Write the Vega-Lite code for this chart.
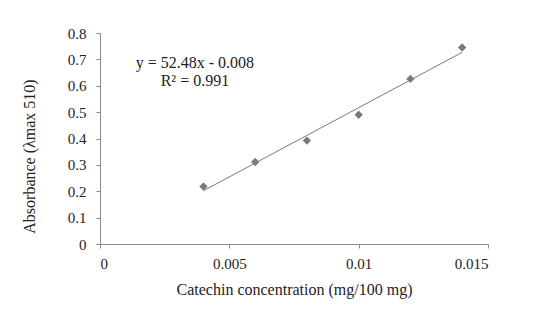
{
  "$schema": "https://vega.github.io/schema/vega-lite/v6.json",
  "width": 388,
  "height": 211,
  "autosize": {"type": "none"},
  "padding": {"left": 100, "top": 33, "right": 58, "bottom": 83},
  "background": "white",
  "config": {
    "view": {"stroke": null},
    "font": "Liberation Serif",
    "axis": {
      "grid": false,
      "domainColor": "#8c8c8c",
      "tickColor": "#8c8c8c",
      "tickSize": 4,
      "labelFont": "Liberation Serif",
      "labelFontSize": 15,
      "labelColor": "#222222",
      "labelOverlap": false,
      "titleFont": "Liberation Serif",
      "titleFontSize": 16,
      "titleFontWeight": "normal",
      "titleColor": "#222222"
    }
  },
  "datasets": {
    "points": [
      {"conc": 0.004, "abs": 0.218},
      {"conc": 0.006, "abs": 0.311},
      {"conc": 0.008, "abs": 0.392},
      {"conc": 0.010, "abs": 0.490},
      {"conc": 0.012, "abs": 0.626},
      {"conc": 0.014, "abs": 0.745}
    ],
    "trend": [
      {"conc": 0.004, "abs": 0.2019},
      {"conc": 0.014, "abs": 0.7267}
    ],
    "labels": [
      {"conc": 0.00367, "abs": 0.687, "text": "y = 52.48x - 0.008"},
      {"conc": 0.00367, "abs": 0.619, "text": "R² = 0.991"}
    ]
  },
  "encoding": {
    "x": {
      "field": "conc", "type": "quantitative",
      "scale": {"domain": [0, 0.015], "nice": false},
      "axis": {"values": [0, 0.005, 0.01, 0.015], "format": ".3~f", "labelPadding": 8, "title": "Catechin concentration (mg/100 mg)", "titlePadding": 10}
    },
    "y": {
      "field": "abs", "type": "quantitative",
      "scale": {"domain": [0, 0.8], "nice": false},
      "axis": {"values": [0, 0.1, 0.2, 0.3, 0.4, 0.5, 0.6, 0.7, 0.8], "format": ".1~f", "labelPadding": 10, "title": "Absorbance (λmax 510)", "titleX": -63, "titleY": 123}
    }
  },
  "layer": [
    {
      "data": {"name": "trend"},
      "mark": {"type": "line", "color": "#7a7a7a", "strokeWidth": 1}
    },
    {
      "data": {"name": "points"},
      "mark": {"type": "point", "shape": "diamond", "filled": true, "color": "#7a7a7a", "size": 70, "opacity": 1}
    },
    {
      "data": {"name": "labels"},
      "mark": {"type": "text", "font": "Liberation Serif", "fontSize": 16, "color": "#222222", "align": "center", "baseline": "middle"},
      "encoding": {
        "text": {"field": "text"}
      }
    }
  ]
}
